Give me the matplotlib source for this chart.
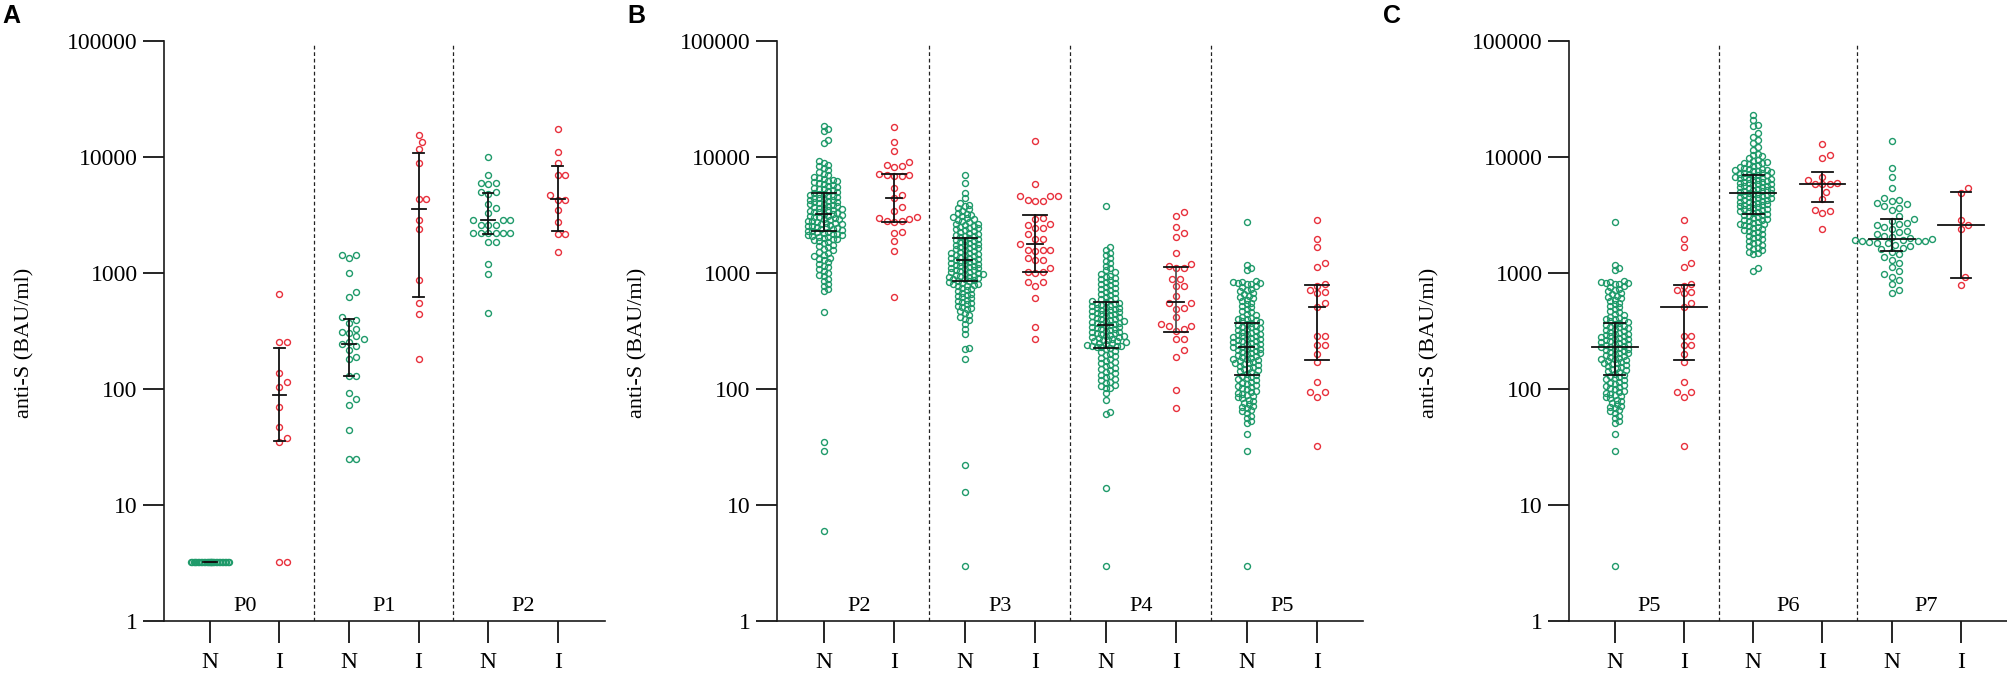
import matplotlib
matplotlib.use("Agg")
import matplotlib.pyplot as plt
import numpy as np

plt.rcParams['font.family'] = ['Liberation Serif', 'DejaVu Serif']

# ---- values (anti-S, BAU/ml) ----
# Panel A
a_p0_n = [3.2] * 30
a_p0_i = [653, 255, 255, 138, 116, 105, 70, 47, 38, 35, 3.2, 3.2]
a_p1_n = [1442, 1442, 1347, 1009, 688, 627, 417, 393, 370, 331, 312, 304, 284,
          268, 255, 242, 236, 217, 188, 181, 130, 130, 93, 82, 73, 44, 25, 25]
a_p1_i = [15560, 13580, 11750, 8870, 4310, 4310, 2840, 2380, 865, 547, 446, 181]
a_p2_n = [9910, 7000, 5950, 5950, 5800, 5020, 5020, 4800, 3930, 3610, 3290, 2890,
          2890, 2890, 2590, 2590, 2590, 2220, 2220, 2220, 2220, 2220, 2220, 1840,
          1840, 1186, 984, 450]
a_p2_i = [17530, 10980, 8870, 7060, 7060, 4700, 4240, 4240, 3515, 2725, 2185, 2185, 1530]

# Panel B
b_p2_n = [18600, 17600, 16700, 13900, 13300,
          9300, 8950, 8600, 8300, 8000, 7700, 7450, 7200, 6950, 6750,
          6600, 6480, 6370, 6260, 6150, 6040, 5940, 5840, 5740, 5640, 5540, 5450,
          5350, 5260, 5170, 5080, 4990, 4910,
          4830, 4770, 4700, 4640, 4580, 4520, 4460, 4400, 4340, 4280, 4220, 4170,
          4110, 4060, 4000, 3950, 3900, 3850, 3800, 3750, 3700, 3650, 3600, 3550,
          3510,
          3460, 3410, 3370, 3330, 3290, 3250, 3210, 3170, 3130, 3090, 3050, 3010,
          2970, 2940, 2900, 2860, 2830, 2790, 2760, 2720, 2690, 2660, 2620, 2590,
          2560, 2530, 2500,
          2470, 2440, 2410, 2380, 2350, 2320, 2290, 2260, 2240, 2210, 2180, 2160,
          2130, 2110, 2080, 2060, 2055,
          2020, 1980, 1950, 1910, 1880, 1850, 1820,
          1760, 1710, 1660, 1610, 1570, 1520, 1480, 1440, 1400, 1360, 1330, 1300,
          1250, 1200, 1160, 1120, 1080, 1040, 1000, 970, 940,
          890, 850, 810, 770, 730, 700,
          460, 35, 29, 6]
b_p2_i = [18000, 13600, 11300, 9100, 8500, 8300, 8200, 7100, 7000, 7000, 6900,
          6800, 5400, 4700, 4400, 3700, 3400, 3050, 3000, 2950, 2800, 2780, 2760,
          2250, 2230, 1900, 1550, 620]
b_p3_n = [7000, 5950, 4900, 4450,
          4000, 3880, 3760, 3640, 3530, 3420, 3320,
          3250, 3180, 3110, 3040, 2970, 2910, 2850, 2790, 2730, 2670, 2620, 2570,
          2530, 2500,
          2460, 2420, 2380, 2330, 2290, 2250, 2220, 2180, 2140, 2100, 2070, 2030,
          2000, 1960, 1930, 1900,
          1870, 1840, 1810, 1790, 1760, 1730, 1700, 1680, 1650, 1630, 1600, 1580,
          1550, 1530, 1500, 1480, 1460, 1440, 1420, 1400, 1380,
          1360, 1340, 1325, 1305, 1290, 1270, 1255, 1240, 1220, 1205, 1190, 1175,
          1160, 1145, 1130, 1115, 1100, 1085, 1070, 1055, 1040, 1030, 1015, 1000,
          990, 975, 965, 950, 940, 930,
          918, 905, 892, 880, 868, 856, 845, 833, 822, 810, 800, 790, 780, 770,
          745, 728, 711, 694, 678, 662, 647, 632, 617, 603, 590,
          577, 563, 549, 536, 523, 511, 499, 487,
          468, 450, 435, 420, 405, 392,
          365, 330, 300,
          225, 220, 183, 22, 13, 3]
b_p3_i = [13800, 5800, 4600, 4600, 4600, 4300, 4150, 4150, 3000, 2900, 2650, 2600,
          2450, 2450, 2150, 1960, 1960, 1770, 1580, 1580, 1580, 1560, 1350, 1300,
          1300, 1100, 1030, 1030, 1000, 840, 830, 770, 610, 345, 270]
b_p4_n = [3800,
          1670, 1580, 1500, 1420, 1350, 1280, 1220, 1160, 1110, 1060, 1010,
          975, 951, 928, 905, 883, 862, 841, 820, 800, 781, 762, 743, 725, 707,
          690, 673, 657, 641, 625, 610, 595, 580, 568,
          560, 552, 545, 538, 530, 523, 516, 509, 502, 495, 489, 482, 476, 470,
          463, 457, 451, 445, 439, 433, 427, 422, 416, 411, 405, 400, 395, 389,
          384, 379, 374, 369, 365, 360, 356,
          350, 345, 340, 335, 331, 326, 322, 318, 313, 309, 305, 301, 297, 293,
          289, 285, 282, 278, 274, 271, 267, 264, 260, 257, 253, 250, 247, 244,
          240, 237, 235, 233, 231, 229, 227,
          220, 214, 208, 202, 197, 191, 186, 181, 176, 171, 166, 162, 157, 153,
          149, 145, 141, 137, 133, 129, 126, 122, 119, 116, 112, 109, 106, 103, 101,
          92, 80, 63, 61, 14, 3]
b_p4_i = [3380, 3070, 2470, 2220, 2050, 1490, 1200, 1140, 1100, 1100, 890, 890,
          770, 770, 630, 550, 550, 500, 490, 420, 365, 350, 350, 330, 316, 270,
          270, 215, 190, 98, 69]
b_p5_n = [2770, 1170, 1100, 1060,
          850, 840, 830, 825, 815, 808,
          798, 776, 755, 734, 714, 695, 676, 657, 639, 622, 605, 590,
          572, 555, 538, 521, 506, 490, 475, 461, 447, 433, 420,
          412, 405, 398, 391, 384, 377, 371, 364, 358, 352, 345, 339, 333, 328,
          322, 316, 311, 305,
          300, 296, 292, 288, 284, 280, 276, 272, 268, 264, 260, 257, 253, 250,
          246, 243, 239, 236, 232, 229, 226, 223, 220, 217,
          213, 210, 206, 203, 199, 196, 193, 190, 186, 183, 180, 177, 174, 171,
          168, 166, 163, 160, 158, 155,
          151, 148, 145, 142, 139, 136, 133, 130, 127,
          124, 121, 119, 116, 113, 111, 108, 106, 104,
          102, 100, 97, 95, 93, 91, 89, 87, 85, 83, 81,
          79, 76, 74, 72, 70, 68, 66, 64, 62,
          59, 56, 53, 51, 41, 29, 3]
b_p5_i = [2840, 1970, 1690, 1220, 1135, 809, 775, 710, 682, 666, 552, 507, 284,
          284, 240, 240, 200, 172, 115, 94, 94, 85, 32]

# Panel C (P5 is the same cohort as in panel B)
c_p6_n = [23000, 20800, 18800, 18400, 16000, 15000, 14100, 13300, 12200, 11400,
          10700, 10400, 10100, 9800, 9500,
          9250, 9100, 8950, 8800, 8650, 8500, 8350, 8200, 8100, 7950, 7850, 7750,
          7700,
          7610, 7520, 7440, 7350, 7270, 7190, 7110, 7030, 6950, 6870, 6790, 6720,
          6640, 6570, 6490, 6420, 6350, 6280, 6210, 6140, 6070, 6000,
          5930, 5860, 5800, 5730, 5660, 5600, 5530, 5470, 5410, 5350, 5290, 5230,
          5170, 5110, 5050, 4990, 4930, 4880, 4820, 4770, 4710, 4660, 4600, 4550,
          4500, 4450, 4400, 4350, 4300,
          4240, 4190, 4130, 4080, 4020, 3970, 3920, 3870, 3820, 3770, 3720, 3670,
          3620, 3570, 3530, 3480, 3430, 3390, 3340, 3300,
          3250, 3190, 3140, 3090, 3040, 2990, 2940, 2890, 2840, 2800, 2750, 2710,
          2660, 2620, 2580, 2540, 2500,
          2450, 2400, 2350, 2300, 2250, 2200, 2150, 2100, 2050, 2000, 1950, 1900,
          1850, 1800, 1750, 1700, 1650, 1610, 1570, 1530, 1490, 1450,
          1100, 1050]
c_p6_i = [13000, 10500, 9770, 6750, 6310, 5960, 5900, 5800, 5800, 5020, 4360, 3490,
          3430, 3320, 2380]
c_p7_n = [13700, 8040, 6730, 5410, 4450, 4300, 4150, 4050, 3900, 3750, 3600, 3500,
          3100, 2900, 2800, 2700, 2650, 2600, 2500, 2400, 2300, 2250, 2150, 2100,
          2050, 2000, 1950, 1930, 1920, 1900, 1880, 1870, 1850, 1830, 1800, 1750,
          1700, 1650, 1600, 1530, 1450, 1380, 1300, 1230, 1120, 1050, 980, 930,
          870, 800, 720, 670]
c_p7_i = [5380, 4940, 2840, 2610, 2400, 918, 795]

# median and interquartile range as drawn on the figure
a_median = [3.2, 89, 246, 3540, 2840, 4350]
a_q1 = [3.2, 35.5, 130, 627, 2185, 2320]
a_q3 = [3.2, 226, 403, 10900, 4940, 8440]
b_median = [3230, 4460, 1290, 1770, 355, 560, 230, 507]
b_q1 = [2280, 2725, 860, 1030, 226, 312, 132, 178]
b_q3 = [4940, 7180, 2000, 3150, 566, 1135, 367, 795]
c_median = [230, 507, 4860, 5900, 1960, 2590]
c_q1 = [132, 178, 3230, 4070, 1560, 903]
c_q3 = [367, 795, 6950, 7370, 2950, 4960]

a_groups = ["P0", "P1", "P2"]
b_groups = ["P2", "P3", "P4", "P5"]
c_groups = ["P5", "P6", "P7"]
arms = ["N", "I"]
y_ticks = [1, 10, 100, 1000, 10000, 100000]
y_labels = ["1", "10", "100", "1000", "10000", "100000"]

GREEN = "#1f9a6a"
RED = "#e8303c"
W, H = 2008, 677

fig = plt.figure(figsize=(W / 100, H / 100), dpi=100)


def px_axes(left, right, top=41, bottom=621):
    return fig.add_axes([left / W, (H - bottom) / H, (right - left) / W, (bottom - top) / H])


def swarm_offsets(vals, min_dist, max_half=60.0, px_per_unit=70.0, px_per_dec=116.0):
    """beeswarm offsets (in x data units), worked out in pixel space"""
    y = np.log10(np.asarray(vals, float)) * px_per_dec
    step = min_dist / 2.0
    cands = [0.0]
    for k in range(1, int(max_half / step) + 1):
        cands += [k * step, -k * step]
    px, py = [], []
    xs = np.zeros(len(y))
    for i in np.argsort(y, kind="stable"):
        best_c, best_d, pick = 0.0, -1.0, None
        for c in cands:
            if not px:
                pick = c
                break
            d = np.min(np.hypot(np.array(px) - c, np.array(py) - y[i]))
            if d >= min_dist:
                pick = c
                break
            if d > best_d:
                best_d, best_c = d, c
        if pick is None:
            pick = best_c
        px.append(pick)
        py.append(y[i])
        xs[i] = pick
    return xs / px_per_unit


def draw_panel(ax, data, medians, q1s, q3s, groups, med_w, cap_w, xmax,
               spread=None, stem_colors=None):
    n_cat = len(data)
    for i, vals in enumerate(data):
        color = GREEN if i % 2 == 0 else RED
        if spread and spread[i]:
            dist, mh = spread[i]
        elif len(vals) < 60:
            dist, mh = 7.5, 60.0
        else:
            dist, mh = 4.5, 22.0
        off = swarm_offsets(vals, dist, mh)
        ax.plot(i + off, vals, linestyle="none", marker="o", ms=4.3, mew=1.0,
                mfc="none", mec=color, zorder=2, clip_on=False)
        c = "#111111"
        sc = stem_colors[i] if stem_colors else c
        ax.plot([i, i], [q1s[i], q3s[i]], color=sc, lw=1.3, zorder=3)
        ax.plot([i - cap_w, i + cap_w], [q1s[i], q1s[i]], color=c, lw=1.3, zorder=3)
        ax.plot([i - cap_w, i + cap_w], [q3s[i], q3s[i]], color=c, lw=1.3, zorder=3)
        ax.plot([i - med_w, i + med_w], [medians[i], medians[i]], color=c, lw=1.3, zorder=3)

    for k in range(1, len(groups)):
        ax.axvline(2 * k - 0.5, ymin=0, ymax=0.993, color="#222222", lw=0.9,
                   dashes=(3, 2.2), zorder=1)
    for k, g in enumerate(groups):
        ax.text(2 * k + 0.5, 10 ** 0.125, g, ha="center", va="center", fontsize=16)

    ax.set_yscale("log")
    ax.set_ylim(1, 100000)
    ax.set_xlim(-0.66, xmax)
    ax.set_yticks(y_ticks)
    ax.set_yticklabels(y_labels)
    ax.yaxis.set_minor_locator(matplotlib.ticker.NullLocator())
    ax.set_xticks(range(n_cat))
    ax.set_xticklabels(arms * (n_cat // 2))
    ax.tick_params(axis="y", direction="out", length=15, width=1.2, labelsize=17, pad=4)
    ax.tick_params(axis="x", direction="out", length=16, width=1.2, labelsize=17, pad=6)
    for s in ["top", "right"]:
        ax.spines[s].set_visible(False)
    for s in ["left", "bottom"]:
        ax.spines[s].set_linewidth(1.2)
        ax.spines[s].set_color("#1a1a1a")
    ax.set_ylabel("anti-S (BAU/ml)", fontsize=16)
    width_px = ax.get_position().width * W
    ax.yaxis.set_label_coords(-130 / width_px, 0.479)


ax_a = px_axes(164, 605)
draw_panel(ax_a, [a_p0_n, a_p0_i, a_p1_n, a_p1_i, a_p2_n, a_p2_i],
           a_median, a_q1, a_q3, a_groups, 0.1, 0.075, 5.68,
           spread=[(1.5, 20.0), None, None, None, None, None])

ax_b = px_axes(777, 1363)
draw_panel(ax_b, [b_p2_n, b_p2_i, b_p3_n, b_p3_i, b_p4_n, b_p4_i, b_p5_n, b_p5_i],
           b_median, b_q1, b_q3, b_groups, 0.11, 0.17, 7.65,
           stem_colors=["#111111"] * 5 + ["#555555"] + ["#111111"] * 2)

ax_c = px_axes(1569, 2008)
draw_panel(ax_c, [b_p5_n, b_p5_i, c_p6_n, c_p6_i, c_p7_n, c_p7_i],
           c_median, c_q1, c_q3, c_groups, 0.33, 0.15, 5.68)

for letter, x in [("A", 2), ("B", 627), ("C", 1383)]:
    fig.text(x / W, 1 - 4 / H, letter, ha="left", va="top", fontsize=18,
             fontweight="bold", family="Liberation Sans")

fig.savefig("out.png", dpi=100)
